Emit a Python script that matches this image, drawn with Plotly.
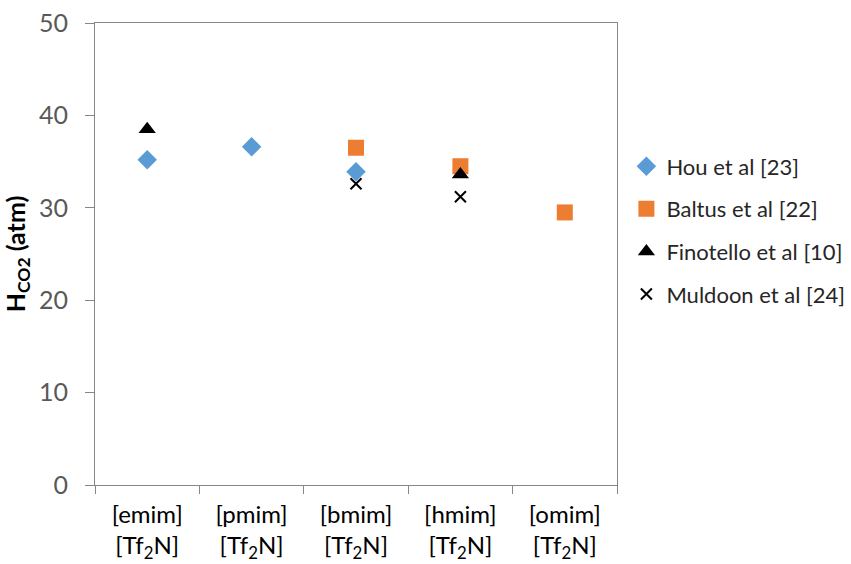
import plotly.graph_objects as go

categories = ["[emim]<br>[Tf<sub>2</sub>N]", "[pmim]<br>[Tf<sub>2</sub>N]", "[bmim]<br>[Tf<sub>2</sub>N]",
              "[hmim]<br>[Tf<sub>2</sub>N]", "[omim]<br>[Tf<sub>2</sub>N]"]

hou_vals = [35.2, 36.6, 33.9, None, None]
baltus_vals = [None, None, 36.5, 34.5, 29.5]
finotello_vals = [38.5, None, None, 33.6, None]
muldoon_vals = [None, None, 32.6, 31.2, None]

series = [
    ("Hou et al [23]", hou_vals, dict(symbol="diamond", size=15, color="#5B9BD5")),
    ("Baltus et al [22]", baltus_vals, dict(symbol="square", size=16, color="#ED7D31")),
    ("Finotello et al [10]", finotello_vals, dict(symbol="triangle-up", size=15, color="#000000")),
    ("Muldoon et al [24]", muldoon_vals, dict(symbol="x-thin", size=11, color="#000000",
                                                line=dict(width=2, color="#000000"))),
]

fig = go.Figure()
for i, (name, vals, marker) in enumerate(series):
    fig.add_trace(go.Scatter(
        x=categories, y=vals, mode="markers", name=name,
        marker=marker, legendgroup=f"g{i}",
    ))

fig.update_layout(
    width=851, height=564,
    margin=dict(l=95, r=234, t=23, b=79, autoexpand=False),
    plot_bgcolor="white", paper_bgcolor="white",
    font=dict(family="Lato, Open Sans, sans-serif", color="#000000"),
    showlegend=True,
    legend=dict(
        x=1.018, y=0.735, xanchor="left", yanchor="top",
        font=dict(size=22, color="#262626"),
        tracegroupgap=11, itemwidth=30,
    ),
    xaxis=dict(
        type="category", tickson="boundaries", ticks="outside", ticklen=8,
        tickcolor="#868686", linecolor="#868686", linewidth=1, mirror=True,
        showgrid=False, tickfont=dict(size=24, color="#000000"),
        ticklabelstandoff=8, automargin=False,
        range=[-0.5, 4.5],
    ),
    yaxis=dict(
        range=[0, 50], dtick=10, ticks="outside", ticklen=9,
        tickcolor="#868686", linecolor="#868686", linewidth=1, mirror=True,
        showgrid=False, zeroline=False, automargin=False,
        tickfont=dict(size=25, color="#595959"),
        ticklabelstandoff=12,
        title=dict(text="<b>H<sub>CO2</sub> (atm)</b>", font=dict(size=25, color="#000000"), standoff=10),
    ),
)

fig.write_html("out.html")
